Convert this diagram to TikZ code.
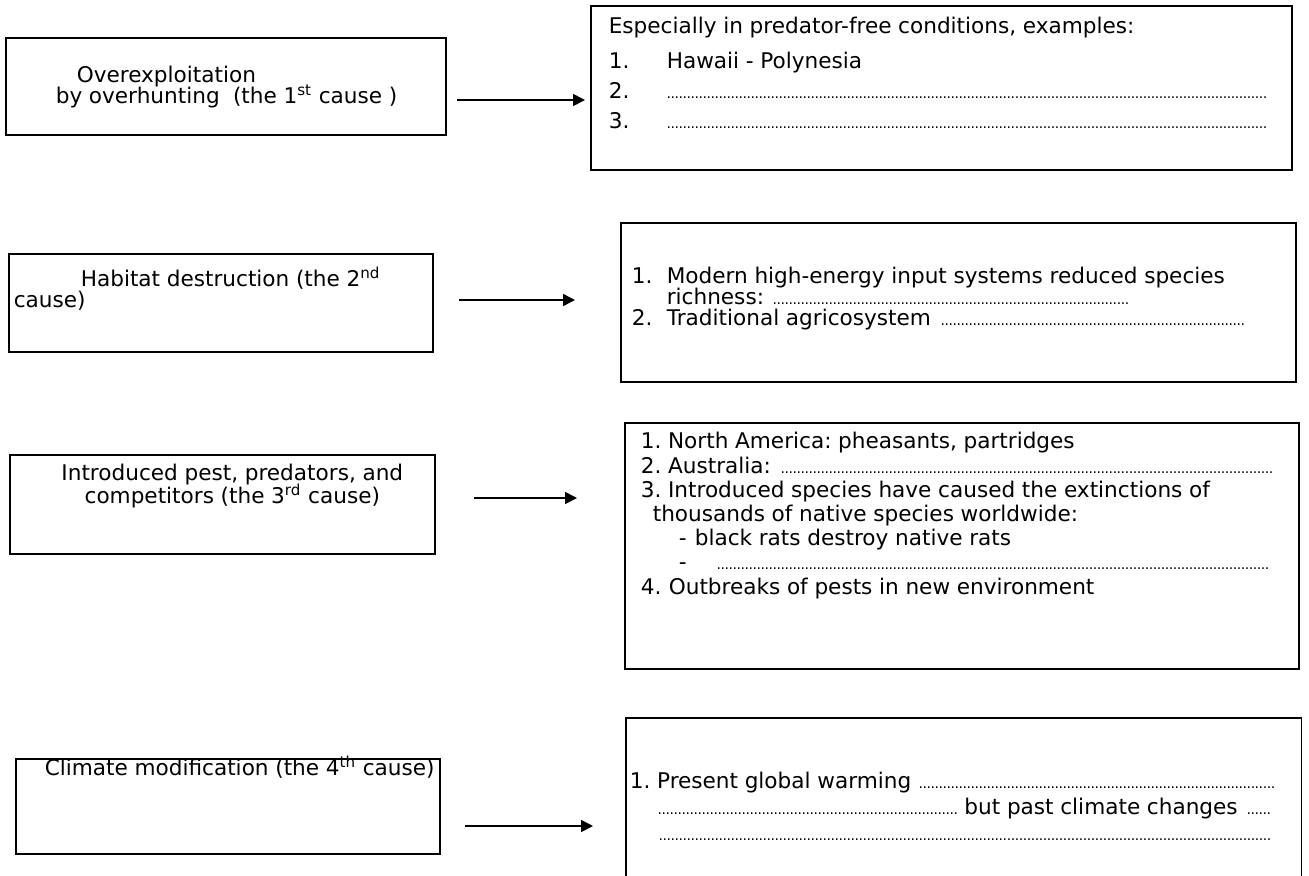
\documentclass[tikz,border=0pt]{standalone}
\usepackage{fontspec}
\setmainfont{DejaVu Sans}
\usetikzlibrary{arrows.meta}

% leader dots for the blanks
\newcommand{\dotchar}{{\fontsize{7}{7}\selectfont.}}
\newcommand{\dotline}[1]{\leaders\hbox to 2pt{\hss\dotchar\hss}\hfill\kern#1\relax}
\newcommand{\dotsto}[1]{\hbox to #1{\leaders\hbox to 2pt{\hss\dotchar\hss}\hfill}}

\tikzset{
	textbox/.style 2 args={draw, line width=0.8pt, anchor=north west, inner sep=0pt, align=left,
		execute at begin node={\fontsize{10.8}{#1}\selectfont\frenchspacing\lineskiplimit=-20pt\leftskip=#2\relax},
		execute at end node={\par}},
}
\tikzstyle{arr}=[line width=0.8pt, -{Triangle[length=6pt, width=6pt]}]

\begin{document}
\begin{tikzpicture}[x=0.5pt, y=-0.5pt]
			\useasboundingbox (0,0) rectangle (1309,875);

			% The four causes
			\node[textbox={10.5pt}{25pt}, text width=220pt, text height=22.5pt, text depth=26pt] (c1) at (5,37)
				{\hspace*{10.5pt}Overexploitation\\by overhunting\ \ (the 1\textsuperscript{st} cause )};
			\node[textbox={10.5pt}{2.5pt}, text width=212pt, text height=16.5pt, text depth=32.5pt] (c2) at (8,253)
				{\hspace*{33.5pt}Habitat destruction (the 2\textsuperscript{nd}\\cause)};
			\node[textbox={11.5pt}{10pt plus 1fil\rightskip=0pt plus 1fil\parfillskip=0pt}, text width=212.5pt, text height=13pt, text depth=36.5pt] (c3) at (9,454)
				{Introduced pest, predators, and\\competitors (the 3\textsuperscript{rd} cause)};
			\node[textbox={12pt}{14.5pt}, text width=212pt, text height=8.5pt, text depth=39pt] (c4) at (15,758)
				{Climate modification (the 4\textsuperscript{th} cause)};

			% What each cause leads to
			\node[textbox={15pt}{9pt}, text width=350.5pt, text height=14pt, text depth=68pt] (e1) at (590,5)
				{Especially in predator-free conditions, examples:\\[2.5pt]
				\makebox[29pt][l]{1.}Hawaii - Polynesia\\
				\makebox[29pt][l]{2.}\dotline{12.5pt}\\
				\makebox[29pt][l]{3.}\dotline{12.5pt}};
			\node[textbox={10.5pt}{5.5pt}, text width=337.5pt, text height=30.5pt, text depth=49pt] (e2) at (620,222)
				{\makebox[17.5pt][l]{1.}Modern high-energy input systems reduced species\\
				\hspace*{17.5pt}richness: \dotline{82.5pt}\\
				\makebox[17.5pt][l]{2.}Traditional agricosystem \dotline{24pt}};
			\node[textbox={12.1pt}{8pt}, text width=337pt, text height=13pt, text depth=110pt] (e3) at (624,422)
				{1. North America: pheasants, partridges\\
				2. Australia: \dotline{12.5pt}\\
				3. Introduced species have caused the extinctions of\\
				\hspace*{6pt}thousands of native species worldwide:\\
				\hspace*{19pt}\makebox[8pt][l]{-}black rats destroy native rats\\
				\hspace*{19pt}\makebox[18.5pt][l]{-}\dotline{15pt}\\
				\makebox[14pt][l]{4.}Outbreaks of pests in new environment};
			\node[textbox={13pt}{1.5pt}, draw=none, text width=337pt, text height=35pt, text depth=43.5pt] (e4) at (626,718)
				{1. Present global warming \dotline{12.5pt}\\
				\hspace*{14pt}\dotsto{150pt} but past climate changes \dotline{13.5pt}\\
				\hspace*{14pt}\dotline{13.5pt}};
			\draw[line width=0.8pt] (e4.south west) |- (e4.north east) -- (e4.south east);

			% Arrows
			\coordinate (a1) at (457,100); \coordinate (b1) at (585,100);
			\coordinate (a2) at (459,300); \coordinate (b2) at (575,300);
			\coordinate (a3) at (474,498); \coordinate (b3) at (577,498);
			\coordinate (a4) at (465,826); \coordinate (b4) at (593,826);
			\foreach \i in {1,...,4}{
				\draw[arr] (a\i) -- (b\i);
			}
		\end{tikzpicture}
\end{document}
